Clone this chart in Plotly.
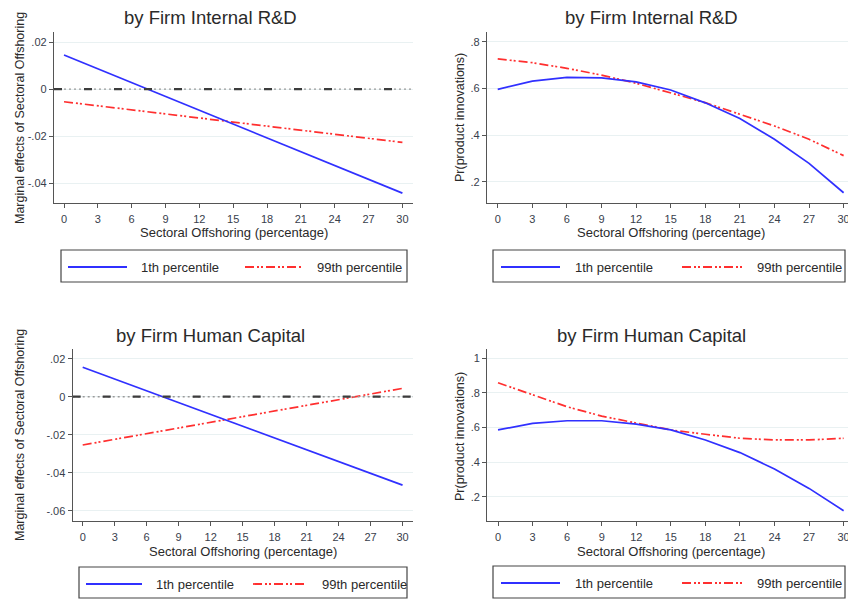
import plotly.graph_objects as go

W, H = 848, 602

# Sectoral offshoring grid (percentage)
offshoring = [0, 3, 6, 9, 12, 15, 18, 21, 24, 27, 30]
offshoring_ends = [0, 30]
x_ticks = [0, 3, 6, 9, 12, 15, 18, 21, 24, 27, 30]

# Marginal effects of sectoral offshoring (linear in offshoring)
me_rd_p1 = [0.0145, -0.0443]
me_rd_p99 = [-0.0054, -0.0227]
me_hc_p1 = [0.0155, -0.0465]
me_hc_p99 = [-0.0254, 0.0044]

# Predicted probability of product innovations
pr_rd_p1 = [0.596, 0.631, 0.647, 0.645, 0.628, 0.593, 0.538, 0.471, 0.382, 0.279, 0.153]
pr_rd_p99 = [0.726, 0.710, 0.686, 0.657, 0.622, 0.582, 0.539, 0.489, 0.439, 0.382, 0.312]
pr_hc_p1 = [0.586, 0.624, 0.639, 0.639, 0.620, 0.586, 0.528, 0.455, 0.360, 0.248, 0.119]
pr_hc_p99 = [0.859, 0.788, 0.720, 0.666, 0.624, 0.586, 0.561, 0.538, 0.528, 0.528, 0.538]

me_ticks = [0.02, 0, -0.02, -0.04, -0.06]
me_ticktext = [".02", "0", "-.02", "-.04", "-.06"]
pr_ticks = [1.0, 0.8, 0.6, 0.4, 0.2]
pr_ticktext = ["1", ".8", ".6", ".4", ".2"]

series_names = ["1th percentile", "99th percentile"]
panel_titles = ["by Firm Internal R&D", "by Firm Human Capital"]
xtitle = "Sectoral Offshoring (percentage)"
ytitle_me = "Marginal effects of Sectoral Offshoring"
ytitle_pr = "Pr(product innovations)"

BLUE = "#3030ff"
RED = "#ff2f2f"
RED_DASH = "9px,3px,2px,2px,2px,3px"
FONT = "Arial, Liberation Sans, sans-serif"
TXT = "#2a2a2a"
TICK_TXT = "#38404c"
AXIS = "#555555"
GRID = "#e9f1f2"


def px(x):
    return x / W


def py(y):
    return 1 - y / H


# panel geometry in pixels: (left, right, top, bottom)
panels = {
    1: dict(box=(54, 413, 32, 203), xr=[-0.887, 30.94], yr=[-0.0485, 0.0243],
            ticks=me_ticks, text=me_ticktext),
    2: dict(box=(487, 848, 32, 203), xr=[-0.93, 30.38], yr=[0.109, 0.8415],
            ticks=pr_ticks, text=pr_ticktext),
    3: dict(box=(72.7, 413, 349, 521), xr=[-0.938, 30.98], yr=[-0.0654, 0.0251],
            ticks=me_ticks, text=me_ticktext),
    4: dict(box=(487.3, 848, 349, 521), xr=[-0.93, 30.38], yr=[0.0595, 1.054],
            ticks=pr_ticks, text=pr_ticktext),
}

fig = go.Figure()

data = {
    1: (offshoring_ends, me_rd_p1, me_rd_p99),
    2: (offshoring, pr_rd_p1, pr_rd_p99),
    3: (offshoring_ends, me_hc_p1, me_hc_p99),
    4: (offshoring, pr_hc_p1, pr_hc_p99),
}

for k, (xs, y1, y99) in data.items():
    sfx = "" if k == 1 else str(k)
    fig.add_trace(go.Scatter(x=xs, y=y99, mode="lines", name=series_names[1],
                             line=dict(color=RED, width=1.7, dash=RED_DASH),
                             xaxis="x" + sfx, yaxis="y" + sfx, showlegend=False))
    fig.add_trace(go.Scatter(x=xs, y=y1, mode="lines", name=series_names[0],
                             line=dict(color=BLUE, width=1.7),
                             xaxis="x" + sfx, yaxis="y" + sfx, showlegend=False))

layout = dict(width=W, height=H, margin=dict(l=0, r=0, t=0, b=0),
              paper_bgcolor="white", plot_bgcolor="white",
              font=dict(family=FONT, color=TXT), showlegend=False)

for k, p in panels.items():
    l, r, t, b = p["box"]
    sfx = "" if k == 1 else str(k)
    layout["xaxis" + sfx] = dict(
        domain=[px(l), min(px(r), 1)], range=p["xr"], anchor="y" + sfx,
        tickvals=x_ticks, ticktext=[str(v) for v in x_ticks],
        showgrid=False, zeroline=False, showline=True, linecolor=AXIS, linewidth=1.3,
        ticks="outside", ticklen=4, tickcolor=AXIS, tickwidth=1.3,
        tickfont=dict(size=11, color=TICK_TXT), ticklabelstandoff=2,
        ticklabeloverflow="allow", automargin=False)
    ticks = [v for v in p["ticks"] if p["yr"][0] <= v <= p["yr"][1]]
    text = [tt for v, tt in zip(p["ticks"], p["text"]) if p["yr"][0] <= v <= p["yr"][1]]
    layout["yaxis" + sfx] = dict(
        domain=[py(b), py(t)], range=p["yr"], anchor="x" + sfx,
        tickvals=ticks, ticktext=text,
        showgrid=True, gridcolor=GRID, gridwidth=1.3, zeroline=False,
        showline=True, linecolor=AXIS, linewidth=1.3,
        ticks="outside", ticklen=4, tickcolor=AXIS, tickwidth=1.3,
        tickfont=dict(size=11, color=TICK_TXT), ticklabeloverflow="allow",
        automargin=False)

fig.update_layout(**layout)

shapes = []
annotations = []

# horizontal reference line at zero in the marginal-effect panels
for k in (1, 3):
    sfx = "" if k == 1 else str(k)
    shapes.append(dict(type="line", xref="x%s domain" % sfx, yref="y" + sfx,
                       x0=0, x1=1, y0=0, y1=0,
                       line=dict(color="#9a9a9a", width=1.4, dash="2px,3px")))
    shapes.append(dict(type="line", xref="x%s domain" % sfx, yref="y" + sfx,
                       x0=0, x1=1, y0=0, y1=0,
                       line=dict(color="#3c3c3c", width=2.2, dash="8px,22px")))

# panel titles
for (cx, cy, txt) in [(210, 17, panel_titles[0]), (651, 17, panel_titles[0]),
                      (210, 335, panel_titles[1]), (651, 335, panel_titles[1])]:
    annotations.append(dict(text=txt, x=px(cx), y=py(cy), xref="paper", yref="paper",
                            showarrow=False, xanchor="center", yanchor="middle",
                            font=dict(size=18.5, color=TXT)))

# axis titles
for (cx, cy) in [(234, 233), (671, 233), (243, 551), (671, 551)]:
    annotations.append(dict(text=xtitle, x=px(cx), y=py(cy), xref="paper", yref="paper",
                            showarrow=False, xanchor="center", yanchor="middle",
                            font=dict(size=13, color=TXT)))
for (cx, cy, txt) in [(20, 118, ytitle_me), (460, 118, ytitle_pr),
                      (20, 435, ytitle_me), (460, 437, ytitle_pr)]:
    annotations.append(dict(text=txt, x=px(cx), y=py(cy), xref="paper", yref="paper",
                            showarrow=False, xanchor="center", yanchor="middle",
                            textangle=-90, font=dict(size=12.5, color=TXT)))

# legend boxes: (box l, r, t, b, blue sample x0, x1, blue text x, red sample x0, x1, red text x, row y)
legends = [
    (61, 407, 250, 282, 68, 127, 139, 245, 303, 315, 267),
    (493, 845, 250, 282, 501, 560, 573, 682, 742, 755, 267),
    (79, 407, 567, 598, 86, 142, 154, 253, 305, 320, 584),
    (493, 845, 566, 598, 501, 560, 573, 682, 742, 755, 583),
]
for (bl, br, bt, bb, b0, b1, bx, r0, r1, rx, ry) in legends:
    shapes.append(dict(type="rect", xref="paper", yref="paper",
                       x0=px(bl), x1=px(br), y0=py(bb), y1=py(bt),
                       line=dict(color="#444444", width=1.2), fillcolor="white"))
    shapes.append(dict(type="line", xref="paper", yref="paper",
                       x0=px(b0), x1=px(b1), y0=py(ry), y1=py(ry),
                       line=dict(color=BLUE, width=1.8)))
    shapes.append(dict(type="line", xref="paper", yref="paper",
                       x0=px(r0), x1=px(r1), y0=py(ry), y1=py(ry),
                       line=dict(color=RED, width=1.8, dash=RED_DASH)))
    annotations.append(dict(text=series_names[0], x=px(bx), y=py(ry), xref="paper",
                            yref="paper", showarrow=False, xanchor="left",
                            yanchor="middle", font=dict(size=13, color=TXT)))
    annotations.append(dict(text=series_names[1], x=px(rx), y=py(ry), xref="paper",
                            yref="paper", showarrow=False, xanchor="left",
                            yanchor="middle", font=dict(size=13, color=TXT)))

fig.update_layout(shapes=shapes, annotations=annotations)

fig.write_html("out.html")
